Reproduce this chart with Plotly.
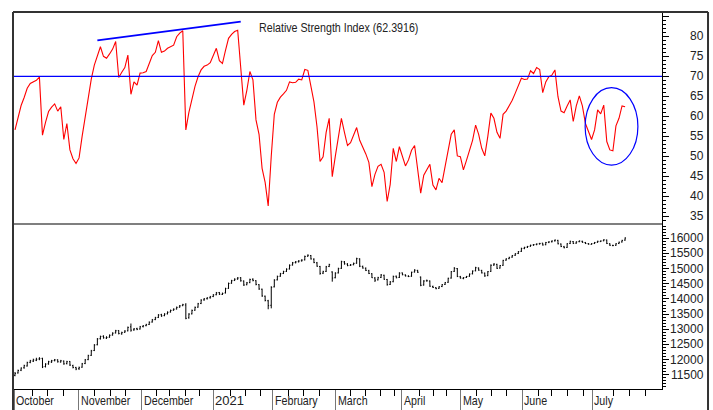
import plotly.graph_objects as go

# ---------------- data ----------------
RSI = [56.6,60.0,62.7,64.7,67.0,68.2,68.5,69.0,69.8,55.3,
 58.5,61.2,62.3,63.1,61.3,62.4,54.2,58.2,51.6,49.4,
 48.2,49.6,55.0,60.0,65.2,69.3,72.8,75.3,77.4,75.0,
 74.5,75.6,76.8,78.7,69.7,71.0,72.2,75.3,65.5,68.6,
 67.8,70.8,70.9,71.2,73.0,75.2,76.0,78.9,76.0,76.3,
 77.0,77.4,77.8,79.9,80.8,81.4,56.6,61.0,64.5,67.5,
 69.9,71.6,72.5,72.8,73.4,75.0,77.0,73.9,73.2,76.5,
 79.5,80.5,81.2,81.5,72.5,62.8,66.5,71.2,69.1,59.1,
 55.5,47.0,43.5,37.6,50.0,60.5,63.5,64.8,65.6,66.5,
 68.6,68.4,68.5,69.3,69.1,71.7,71.5,67.0,63.6,57.4,
 48.7,49.9,56.0,59.5,44.9,50.0,54.5,59.5,56.0,52.7,
 53.4,55.5,57.2,54.0,52.5,50.6,48.5,42.4,45.5,47.5,
 48.0,46.0,38.7,43.0,52.0,48.7,52.4,50.0,47.6,49.1,
 51.5,52.7,47.0,40.8,45.3,46.5,48.0,42.8,41.6,44.5,
 43.4,47.5,51.5,55.5,56.6,50.1,49.9,46.6,49.0,51.5,
 54.0,57.8,55.5,52.0,50.1,55.0,60.8,59.5,56.0,54.5,
 60.5,61.3,62.5,64.0,65.8,67.5,69.5,69.2,69.3,71.4,
 70.7,72.2,71.7,65.9,68.6,69.9,70.3,71.6,64.9,61.3,
 60.9,62.6,64.1,58.7,62.6,65.1,62.6,58.2,56.1,54.2,
 56.6,61.6,60.6,62.8,53.7,51.6,51.4,57.6,59.5,62.6,
 62.39]

OPEN = [11480,11560,11650,11730,11790,11910,11950,11980,12020,12040,
 11770,11860,11920,11970,11990,11920,11950,11870,11940,11800,
 11740,11700,11750,11870,12000,12140,12300,12490,12690,12770,
 12710,12740,12810,12880,12960,12850,12900,12950,13080,12980,
 13020,13010,13090,13120,13160,13240,13320,13390,13480,13450,
 13510,13570,13630,13670,13730,13780,13800,13380,13510,13630,
 13730,13850,13970,14010,14040,14080,14140,14210,14150,14200,
 14350,14520,14610,14660,14700,14590,14470,14540,14650,14600,
 14470,14320,14090,13940,13790,14400,14630,14750,14840,14910,
 14990,15120,15200,15230,15260,15290,15410,15430,15310,15190,
 15070,14850,14910,15070,14890,14700,14860,15010,15220,15150,
 15110,15130,15180,15320,15070,15010,14930,14830,14690,14630,
 14710,14780,14640,14480,14570,14750,14710,14860,14790,14750,
 14750,14890,14940,14720,14460,14600,14590,14410,14370,14350,
 14410,14480,14550,14690,14910,15000,14730,14680,14710,14750,
 14830,14930,15020,14940,14850,14770,14910,15120,15140,15020,
 15110,15280,15330,15380,15440,15500,15570,15670,15710,15740,
 15780,15800,15820,15840,15790,15870,15890,15920,15930,15810,
 15720,15700,15830,15890,15840,15890,15900,15860,15820,15800,
 15830,15870,15890,15920,15940,15820,15760,15770,15830,15880,
 15940]

HIGH = [11590,11670,11740,11830,11930,11990,12030,12060,12080,12060,
 11880,11960,11990,12020,12010,11990,11970,11960,11950,11830,
 11760,11770,11890,12020,12160,12320,12510,12710,12790,12800,
 12770,12830,12900,12980,12970,12920,12970,13090,13190,13040,
 13050,13110,13140,13180,13260,13340,13410,13500,13510,13530,
 13590,13650,13690,13750,13800,13840,13860,13530,13650,13750,
 13870,13990,14030,14060,14100,14160,14230,14230,14210,14370,
 14540,14630,14680,14720,14720,14610,14560,14670,14680,14620,
 14490,14340,14110,13970,14420,14650,14770,14860,14930,15010,
 15140,15220,15250,15280,15310,15430,15470,15450,15340,15220,
 15090,14930,15090,15160,14910,14880,15030,15260,15250,15180,
 15150,15200,15360,15340,15100,15040,14960,14850,14720,14730,
 14820,14800,14660,14590,14770,14770,14880,14870,14810,14780,
 14900,14980,14960,14740,14620,14640,14610,14440,14390,14420,
 14490,14560,14700,14920,15050,15020,14760,14720,14760,14840,
 14940,15060,15040,14960,14870,14920,15140,15180,15160,15120,
 15290,15340,15390,15450,15510,15580,15690,15720,15750,15790,
 15810,15830,15850,15850,15880,15900,15930,15960,15950,15830,
 15750,15840,15920,15910,15900,15930,15920,15880,15840,15840,
 15880,15920,15930,15970,15960,15840,15790,15840,15890,15950,
 16030]

LOW = [11450,11540,11620,11700,11770,11880,11920,11950,11980,11720,
 11740,11830,11890,11940,11900,11900,11830,11840,11790,11710,
 11650,11660,11730,11850,11980,12120,12280,12470,12660,12690,
 12680,12720,12790,12860,12830,12820,12880,12930,12920,12950,
 12970,12990,13060,13100,13140,13220,13300,13370,13410,13430,
 13490,13550,13610,13650,13710,13760,13330,13350,13490,13610,
 13710,13830,13940,13980,14010,14060,14120,14130,14130,14180,
 14330,14500,14590,14630,14570,14430,14450,14520,14580,14450,
 14300,14070,13920,13660,13690,14380,14610,14730,14820,14890,
 14970,15100,15170,15200,15230,15270,15390,15300,15180,15060,
 14800,14820,14890,15050,14570,14680,14840,14990,15130,15080,
 15090,15110,15160,15050,15000,14920,14820,14690,14560,14610,
 14690,14630,14440,14460,14550,14680,14690,14780,14740,14720,
 14730,14870,14860,14420,14440,14570,14400,14360,14320,14330,
 14390,14460,14530,14670,14890,14720,14670,14650,14690,14730,
 14810,14910,14930,14840,14730,14750,14890,15090,14990,15000,
 15090,15260,15310,15360,15420,15480,15550,15640,15680,15720,
 15750,15770,15790,15760,15770,15840,15860,15890,15800,15710,
 15670,15680,15810,15810,15820,15870,15850,15810,15790,15790,
 15810,15850,15880,15900,15810,15750,15740,15750,15810,15860,
 15920]

CLOSE = [11545,11640,11720,11800,11900,11960,11990,12010,12030,11760,
 11850,11930,11960,11990,11930,11960,11860,11930,11820,11740,
 11690,11730,11860,11990,12130,12290,12480,12680,12760,12720,
 12730,12800,12870,12950,12860,12890,12940,13060,12970,13010,
 13000,13080,13110,13150,13230,13310,13380,13470,13440,13500,
 13560,13620,13660,13720,13770,13810,13360,13500,13620,13720,
 13840,13960,14000,14030,14070,14130,14200,14160,14180,14340,
 14510,14600,14650,14690,14600,14460,14530,14640,14610,14480,
 14330,14100,13950,13780,14380,14620,14740,14830,14900,14980,
 15110,15190,15220,15250,15280,15400,15440,15320,15200,15080,
 14840,14900,15060,15130,14690,14850,15000,15230,15160,15100,
 15120,15170,15330,15080,15020,14940,14840,14700,14620,14700,
 14790,14650,14470,14560,14740,14700,14850,14800,14760,14740,
 14880,14950,14880,14450,14590,14600,14420,14380,14340,14400,
 14470,14540,14680,14900,15010,14740,14690,14700,14740,14820,
 14920,15030,14950,14860,14760,14900,15110,15150,15010,15100,
 15270,15320,15370,15430,15490,15560,15660,15700,15730,15770,
 15790,15810,15830,15780,15860,15880,15910,15940,15820,15730,
 15690,15820,15900,15830,15880,15910,15870,15830,15810,15820,
 15860,15900,15910,15950,15830,15770,15760,15820,15870,15930,
 16010]

BARS = list(range(len(CLOSE)))

MONTH_LABELS = ["October", "November", "December", "2021", "February",
                "March", "April", "May", "June", "July"]
MONTH_POS = [-0.3, 20.9, 41.5, 65.0, 84.5, 105.2, 126.8, 146.2, 166.3, 189.3]
WEEK_POS = [5.7, 10.7, 15.8, 26.0, 31.2, 36.3, 46.5, 50.8, 56.0, 60.4, 70.5,
            75.4, 80.6, 89.6, 94.5, 99.8, 110.1, 114.8, 119.7, 124.3, 132.5,
            137.2, 141.3, 151.4, 156.3, 161.2, 171.6, 176.0, 181.1, 186.3,
            196.2, 201.6, 206.6]

RSI_TICKS = [35, 40, 45, 50, 55, 60, 65, 70, 75, 80]
PRICE_TICKS = [11500, 12000, 12500, 13000, 13500, 14000, 14500, 15000, 15500, 16000]

TREND_X = [27.0, 74.0]
TREND_Y = [79.0, 83.65]
CIRCLE_X = [186.9, 204.2]
CIRCLE_Y = [47.8, 67.15]
TITLE = "Relative Strength Index (62.3916)"

# ---------------- figure ----------------
FONT = "Liberation Sans, Arial, sans-serif"
SPLIT = 0.4377

fig = go.Figure()
fig.add_trace(go.Ohlc(x=BARS, open=OPEN, high=HIGH, low=LOW, close=CLOSE,
                      xaxis="x", yaxis="y", tickwidth=0.3,
                      increasing=dict(line=dict(color="black", width=1)),
                      decreasing=dict(line=dict(color="black", width=1)),
                      showlegend=False, hoverinfo="skip"))
fig.add_trace(go.Scatter(x=BARS, y=RSI, mode="lines", xaxis="x", yaxis="y2",
                         line=dict(color="#ff0000", width=1.1),
                         showlegend=False, hoverinfo="skip"))
fig.add_trace(go.Scatter(x=TREND_X, y=TREND_Y, mode="lines", xaxis="x", yaxis="y2",
                         line=dict(color="#0000ff", width=1.8),
                         showlegend=False, hoverinfo="skip"))

shapes = [
    dict(type="line", xref="paper", yref="y2", x0=0, x1=1, y0=70, y1=70,
         line=dict(color="#0000ff", width=1.3)),
    dict(type="circle", xref="x", yref="y2", x0=CIRCLE_X[0], x1=CIRCLE_X[1],
         y0=CIRCLE_Y[0], y1=CIRCLE_Y[1], line=dict(color="#0000ff", width=1.2)),
    dict(type="line", xref="paper", yref="paper", x0=0, x1=1, y0=SPLIT, y1=SPLIT,
         line=dict(color="black", width=1.2)),
    dict(type="line", xref="paper", yref="paper", x0=0, x1=0, y0=-0.07, y1=1,
         line=dict(color="#333333", width=2)),
    dict(type="line", xref="paper", yref="paper", x0=0, x1=1.0709, y0=1, y1=1,
         line=dict(color="#333333", width=2)),
    dict(type="line", xref="paper", yref="paper", x0=1.0709, x1=1.0709, y0=-0.07, y1=1,
         line=dict(color="#333333", width=2)),
]

annotations = [dict(text=TITLE, xref="x", yref="y2", x=79.3, y=82.2,
                    xanchor="left", yanchor="middle", align="left", showarrow=False,
                    font=dict(family=FONT, size=13, color="#222222"))]
for v in RSI_TICKS:
    annotations.append(dict(text=str(v), xref="paper", yref="y2", x=1.0616, y=v,
                            xanchor="right", yanchor="middle", xshift=4, showarrow=False,
                            font=dict(family=FONT, size=12, color="#222222")))
for v in PRICE_TICKS:
    annotations.append(dict(text=str(v), xref="paper", yref="y", x=1.0616, y=v,
                            xanchor="right", yanchor="middle", xshift=4, showarrow=False,
                            font=dict(family=FONT, size=12, color="#222222")))
for lab, pos in zip(MONTH_LABELS, MONTH_POS):
    annotations.append(dict(text=lab, xref="x", yref="paper", x=pos, y=-0.056,
                            xanchor="left", yanchor="bottom", align="left", showarrow=False,
                            font=dict(family=FONT, size=13, color="#222222")))

fig.update_layout(
    width=713, height=410,
    margin=dict(l=13, r=51, t=12, b=21, pad=0, autoexpand=False),
    paper_bgcolor="white", plot_bgcolor="white",
    shapes=shapes, annotations=annotations,
    xaxis=dict(domain=[0, 1], range=[-0.66, 212.1], anchor="y", automargin=False,
               showgrid=False, zeroline=False, showline=True,
               linecolor="black", linewidth=1,
               ticks="outside", tickmode="array", tickvals=MONTH_POS,
               ticklen=21, tickcolor="#777777", tickwidth=1,
               showticklabels=False,
               minor=dict(ticks="outside", tickmode="array", tickvals=WEEK_POS,
                          ticklen=6, tickcolor="black", tickwidth=1),
               rangeslider=dict(visible=False)),
    yaxis=dict(domain=[0, SPLIT], range=[11030, 16472], anchor="x", side="right",
               automargin=False,
               showgrid=False, zeroline=False, showline=True,
               linecolor="black", linewidth=1,
               ticks="outside", tick0=0, dtick=500, ticklen=6, tickcolor="black",
               showticklabels=False,
               minor=dict(ticks="outside", dtick=100, ticklen=3, tickcolor="black")),
    yaxis2=dict(domain=[SPLIT, 1], range=[33.08, 86.08], anchor="x", side="right",
                automargin=False,
                showgrid=False, zeroline=False, showline=True,
                linecolor="black", linewidth=1,
                ticks="outside", tick0=0, dtick=5, ticklen=6, tickcolor="black",
                showticklabels=False,
                minor=dict(ticks="outside", dtick=1, ticklen=3, tickcolor="black")),
)

# Remove the default page margin and draw the word labels in a condensed width
POST = """
document.body.style.margin = '0';
document.querySelectorAll('g.annotation text.annotation-text').forEach(function (t) {
  if (/[A-Za-z]/.test(t.textContent)) {
    var w = t.getComputedTextLength();
    t.setAttribute('lengthAdjust', 'spacingAndGlyphs');
    t.setAttribute('textLength', (w * 0.82).toFixed(1));
  }
});
"""

fig.write_html("out.html", post_script=POST, config={"displayModeBar": False})
